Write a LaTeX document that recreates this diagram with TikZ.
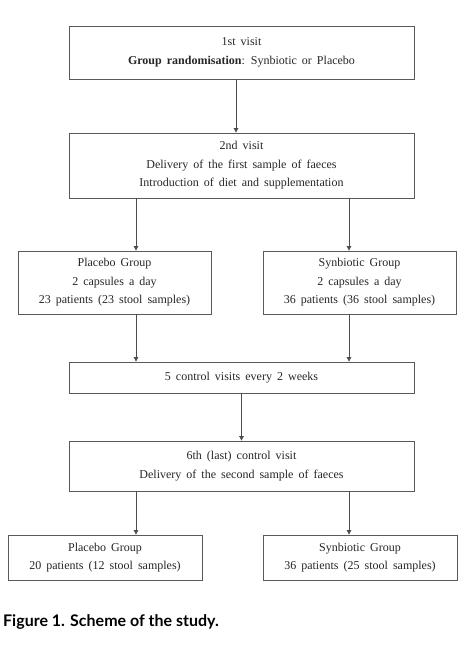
\documentclass[tikz,border=0pt]{standalone}
\usepackage{fontspec}
\setmainfont{Liberation Serif}
\newfontfamily\captionfont{Lato}
\usetikzlibrary{arrows.meta}

\newcommand{\boxfont}{\fontsize{12}{18.5}\selectfont\spaceskip=0.42em plus 0.1em\relax}

\tikzset{
  stagebox/.style={draw=black!65, line width=0.8pt, align=center, inner sep=0pt,
    text=black!85, font=\boxfont},
  flow/.style={draw=black!70, line width=0.7pt, -{Triangle[width=4.5pt,length=4.5pt]}}
}

\begin{document}
\begin{tikzpicture}[x=1pt,y=-1pt]
  \useasboundingbox (0,0) rectangle (472,659);

  \node [stagebox, minimum width=345, minimum height=53] (visit1) at (241.5,52.5)
    {1st visit\\\textbf{Group randomisation}: Synbiotic or Placebo};
  \node [stagebox, minimum width=345, minimum height=65] (visit2) at (241.5,165.5)
    {2nd visit\\Delivery of the first sample of faeces\\Introduction of diet and supplementation};
  \node [stagebox, minimum width=193, minimum height=63] (placebo) at (114.5,282.5)
    {Placebo Group\\2 capsules a day\\23 patients (23 stool samples)};
  \node [stagebox, minimum width=193, minimum height=63] (synbio) at (359.5,282.5)
    {Synbiotic Group\\2 capsules a day\\36 patients (36 stool samples)};
  \node [stagebox, minimum width=345, minimum height=31] (control) at (241.5,377.5)
    {5 control visits every 2 weeks};
  \node [stagebox, minimum width=345, minimum height=50] (visit6) at (241.5,466)
    {6th (last) control visit\\Delivery of the second sample of faeces};
  \node [stagebox, minimum width=194, minimum height=45] (placeboend) at (105,557.5)
    {Placebo Group\\20 patients (12 stool samples)};
  \node [stagebox, minimum width=194, minimum height=45] (synbioend) at (360,557.5)
    {Synbiotic Group\\36 patients (25 stool samples)};

  \node [anchor=west, inner sep=0pt, font=\captionfont\bfseries\fontsize{16}{18}\selectfont]
    (caption) at (3,622) {Figure 1. Scheme of the study.};

  % arrow columns
  \coordinate (colmid) at (236,0);
  \coordinate (colleft) at (136,0);
  \coordinate (colright) at (349,0);

  \draw [flow] (visit1.south -| colmid) -- (visit2.north -| colmid);
  \draw [flow] (visit2.south -| colleft) -- (placebo.north -| colleft);
  \draw [flow] (visit2.south -| colright) -- (synbio.north -| colright);
  \draw [flow] (placebo.south -| colleft) -- (control.north -| colleft);
  \draw [flow] (synbio.south -| colright) -- (control.north -| colright);
  \draw [flow] (control.south) -- (visit6.north);
  \draw [flow] (visit6.south -| colleft) -- (placeboend.north -| colleft);
  \draw [flow] (visit6.south -| colright) -- (synbioend.north -| colright);

\end{tikzpicture}
\end{document}
